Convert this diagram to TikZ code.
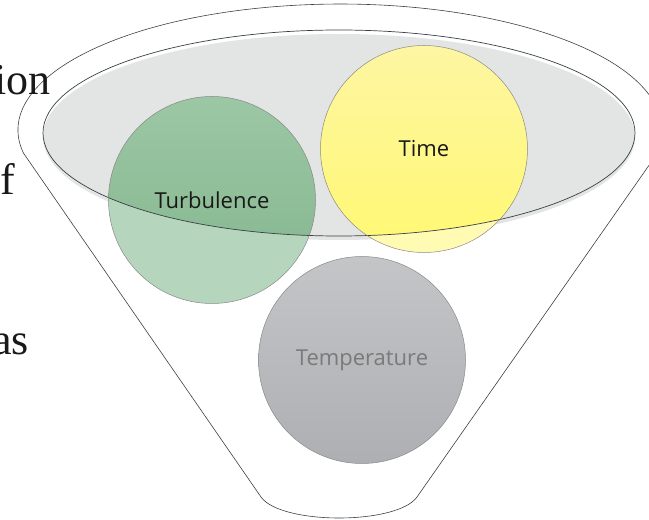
\documentclass[tikz,border=0pt]{standalone}
\usepackage{fontspec}
\setmainfont{Liberation Serif}
\newfontfamily\ballfont{Open Sans}
\usetikzlibrary{calc}

\definecolor{rim}{HTML}{3A3F47}
\definecolor{bowl}{HTML}{E3E4E4}
\definecolor{ballline}{HTML}{8A8A8A}
\definecolor{greenlight}{HTML}{B5D5BC}
\definecolor{greentop}{HTML}{9CC7A4}
\definecolor{greenbottom}{HTML}{82B58D}
\definecolor{yellowlight}{HTML}{FFFBB2}
\definecolor{yellowtop}{HTML}{FEF6A2}
\definecolor{yellowbottom}{HTML}{FFF872}
\definecolor{greytop}{HTML}{C4C5C7}
\definecolor{greybottom}{HTML}{AEAFB2}
\definecolor{labelgrey}{HTML}{7A7A7A}

\tikzset{
	ball/.style = {circle, draw = ballline, line width = 0.5pt, minimum size = 207pt, inner sep = 0pt, text = black!90, font = \ballfont\fontsize{22}{26}\selectfont},
	side text/.style = {anchor = base east, inner sep = 0pt, text = black!90, font = \fontsize{44}{50}\selectfont}
}

\begin{document}
\begin{tikzpicture}[x = 1pt, y = 1pt]
	\def\rad{103.5};
	\useasboundingbox (0,0) rectangle (649,520);

	\coordinate (bowl centre) at (339,387);
	\coordinate (turbulence centre) at (212,320);
	\coordinate (time centre) at (424,371);
	\coordinate (temperature centre) at (362,160);

	% funnel
	\draw [rim, line width = 0.6pt] (23.4,367) arc [start angle = 190.5, end angle = -17.1, x radius = 322, y radius = 126]
		-- (417,23) .. controls (397,-5) and (281,-5) .. (261,23) -- cycle;

	\fill [bowl] ($ (bowl centre) + (0,-4) $) ellipse [x radius = 296, y radius = 103];

	\begin{scope}
		\fill [greenlight] (turbulence centre) circle [radius = \rad];
		\fill [yellowlight] (time centre) circle [radius = \rad];
		\shade [top color = greytop, bottom color = greybottom] (temperature centre) circle [radius = \rad];
	\end{scope}

	% darker where the balls sit in the bowl
	\begin{scope}
		\clip (bowl centre) ellipse [x radius = 296, y radius = 103];
		\shade [top color = greentop, bottom color = greenbottom] (turbulence centre) circle [radius = \rad];
		\shade [top color = yellowtop, bottom color = yellowbottom] (time centre) circle [radius = \rad];
	\end{scope}

	\draw [rim, line width = 0.7pt] (bowl centre) ellipse [x radius = 296, y radius = 103];

	\node [ball] (turbulence) at (turbulence centre) {Turbulence};
	\node [ball] (time) at (time centre) {Time};
	\node [ball, text = labelgrey] (temperature) at (temperature centre) {Temperature};

	\node [side text] (ion) at (51,425) {ion};
	\node [side text] (f) at (15,325) {f};
	\node [side text] (as) at (29,165) {as};
\end{tikzpicture}
\end{document}
